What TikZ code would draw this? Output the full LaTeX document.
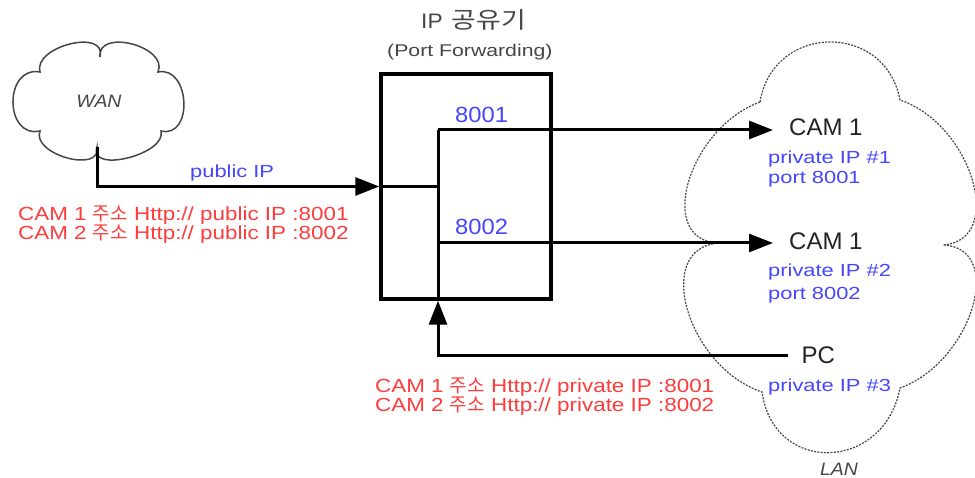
\documentclass[tikz,border=0pt]{standalone}
\usepackage{fontspec}
\usepackage{graphicx}
\setmainfont{Liberation Sans}
\newfontfamily\fA{Liberation Sans}[FakeStretch=1.25]
\newfontfamily\fB{Liberation Sans}[FakeStretch=1.18]
\newfontfamily\fC{Liberation Sans}[FakeStretch=1.08]
\newfontfamily\kr{Noto Sans CJK KR}
\usetikzlibrary{arrows.meta,calc}
\definecolor{myblue}{RGB}{70,70,250}
\definecolor{myred}{RGB}{255,60,60}
\definecolor{mydark}{RGB}{35,35,35}
\definecolor{mygray}{RGB}{70,70,70}
% rounded lobe (WAN)
\newcommand\lobe[3]{.. controls ($0.453*(#1)+1.333*(#2)-0.787*(#3)$) and ($0.453*(#3)+1.333*(#2)-0.787*(#1)$) .. (#3)}
% notched lobe (LAN)
\newcommand\nlobe[3]{.. controls ($0.233*(#1)+1.333*(#2)-0.567*(#3)$) and ($0.233*(#3)+1.333*(#2)-0.567*(#1)$) .. (#3)}
\tikzset{
  lbl/.style={inner sep=0pt, anchor=base west},
  bl/.style={lbl, text=myblue, font=\fA\fontsize{17.5}{20}\selectfont},
  rd/.style={lbl, text=myred, font=\fB\fontsize{19}{19}\selectfont},
  pn/.style={lbl, text=myblue, font=\fC\fontsize{22}{24}\selectfont},
  dev/.style={lbl, text=mydark, font=\fontsize{24}{26}\selectfont},
  ln/.style={line width=3pt, draw=black},
  arr/.style={-{Triangle[length=24pt,width=18pt]}},
  wancloud/.style={line width=1.5pt, draw=mygray},
  lancloud/.style={line width=1.2pt, draw=mygray, dash pattern=on 2pt off 1.3pt},
}
\begin{document}
\begin{tikzpicture}[x=1pt,y=-1pt]
\useasboundingbox (0,0) rectangle (975,478);
\fill[white] (0,0) rectangle (975,478);

% WAN cloud
\draw[wancloud] (40,72) \lobe{40,72}{70,44}{100,57} \lobe{100,57}{132,44}{158,72}
  \lobe{158,72}{184,102}{161,131} \lobe{161,131}{128,158}{97,147}
  \lobe{97,147}{67,158}{40,131} \lobe{40,131}{13,102}{40,72} -- cycle;
\node[inner sep=0pt, anchor=base, text=mygray, font=\fC\itshape\fontsize{18}{20}\selectfont] (wan) at (99,108) {WAN};
\coordinate (wanbot) at (97,147);

% LAN cloud
\draw[lancloud] (760,102) \nlobe{760,102}{830,42}{900,100} \nlobe{900,100}{973,180}{943,245}
  \nlobe{943,245}{973,308}{900,388} \nlobe{900,388}{830,453}{762,392}
  \nlobe{762,392}{688,310}{719,243} \nlobe{719,243}{689,182}{760,102} -- cycle;
\node[inner sep=0pt, anchor=base, text=mygray, font=\fC\itshape\fontsize{18}{20}\selectfont] (lan) at (839,475) {LAN};

% router
\node[draw, line width=3.5pt, minimum width=170pt, minimum height=225pt, inner sep=0pt] (router) at (466,186.5) {};
\node[lbl, text=mygray, font=\fC\fontsize{21}{24}\selectfont] (title) at (421,29) {IP\hspace{3pt} \scalebox{1.22}[1.05]{\kr\fontsize{22}{24}\selectfont 공유기}};
\node[lbl, text=mygray, font=\fA\fontsize{17}{20}\selectfont] (sub) at (387,57) {(Port Forwarding)};
\coordinate (j1) at (438,130);
\coordinate (j2) at (438,243);
\coordinate (jb) at (438,356);

% devices
\node[dev, inner xsep=16pt] (cam1) at (773,136) {CAM 1};
\node[dev, inner xsep=16pt] (cam2) at (773,250) {CAM 1};
\node[dev, inner xsep=13.5pt] (pc) at (788,363) {PC};
\node[bl] (ip1) at (768,163.5) {private IP \#1};
\node[bl] (pt1) at (768,184) {port 8001};
\node[bl] (ip2) at (768,276.5) {private IP \#2};
\node[bl] (pt2) at (768,300) {port 8002};
\node[bl] (ip3) at (768,391.5) {private IP \#3};

% port labels
\node[pn] (p8001) at (455,123) {8001};
\node[pn] (p8002) at (455,235) {8002};

% addresses
\node[bl] (pubip) at (190,178) {public IP};
\node[rd] (wa1) at (18,221) {CAM 1 {\kr 주소} Http:// public IP :8001};
\node[rd] (wa2) at (18,240) {CAM 2 {\kr 주소} Http:// public IP :8002};
\node[rd] (la1) at (375,392) {CAM 1 {\kr 주소} Http:// private IP :8001};
\node[rd] (la2) at (375,411) {CAM 2 {\kr 주소} Http:// private IP :8002};

% connectors
\draw[ln, arr] (wanbot) |- (router.west);
\draw[ln] (router.west) -- (router.west -| j1);
\draw[ln] (j1) -- (j1 |- router.south);
\draw[ln, arr] (j1) -- (j1 -| cam1.west);
\draw[ln, arr] (j2) -- (j2 -| cam2.west);
\draw[ln, arr] (pc.west |- jb) -- (jb) -- (jb |- router.south);
\end{tikzpicture}
\end{document}
